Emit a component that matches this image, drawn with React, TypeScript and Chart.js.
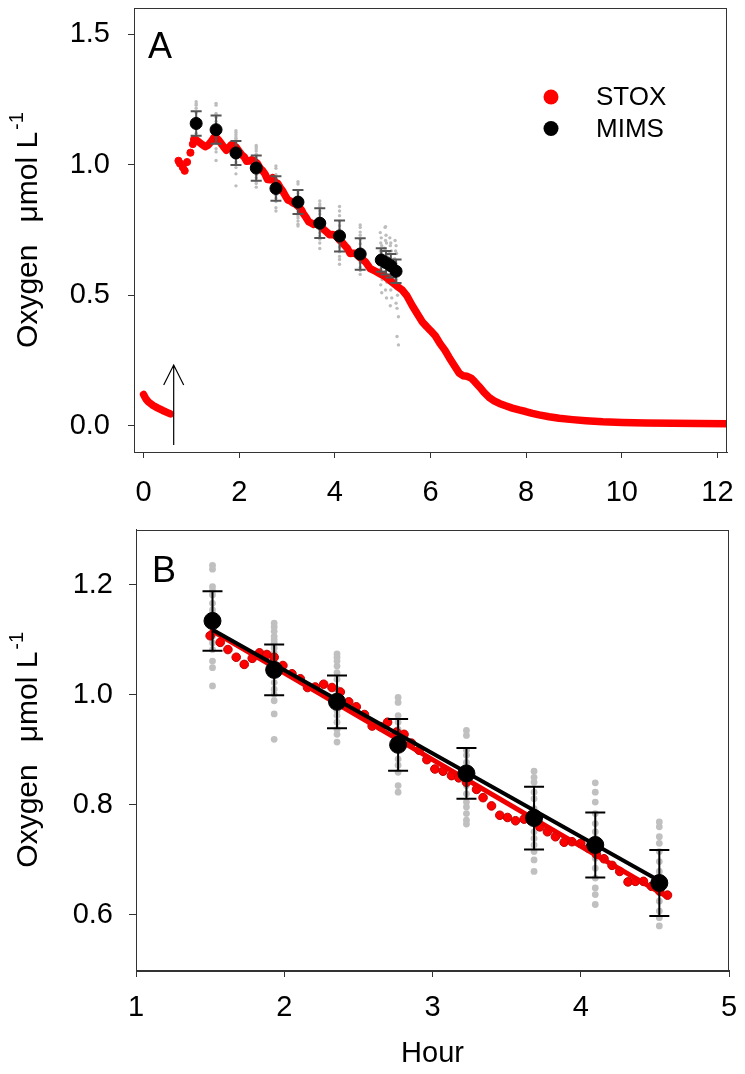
import React, { useEffect, useRef } from 'react';
import { Chart, registerables } from 'chart.js';

Chart.register(...registerables);

const FONT = '"Liberation Sans", Arial, Helvetica, sans-serif';

// ---------- tick labels ----------
const aXTicks = [0, 2, 4, 6, 8, 10, 12];
const aYTicks = [0.0, 0.5, 1.0, 1.5];
const bXTicks = [1, 2, 3, 4, 5];
const bYTicks = [0.6, 0.8, 1.0, 1.2];

// ---------- STOX (red) ----------
// initial segment before injection (arrow)
const stoxHeadHour = [0.0, 0.05, 0.1, 0.2, 0.3, 0.4, 0.5, 0.56];
const stoxHeadO2 = [0.12, 0.103, 0.092, 0.078, 0.068, 0.059, 0.051, 0.046];
// scattered dots just after injection
const stoxDotHour = [0.73, 0.76, 0.82, 0.86, 0.91, 0.98, 1.03];
const stoxDotO2 = [1.015, 1.005, 0.99, 0.977, 1.01, 1.046, 1.079];
// early zig-zag
const stoxEarlyHour = [1.05, 1.1, 1.15, 1.22, 1.29, 1.35, 1.42, 1.47];
const stoxEarlyO2 = [1.097, 1.095, 1.088, 1.078, 1.069, 1.075, 1.09, 1.104];
// regression window (panel B)
const stoxHour = [1.5, 1.568, 1.62, 1.676, 1.73, 1.784, 1.833, 1.883, 1.932, 1.991, 2.052, 2.108, 2.157, 2.209, 2.266, 2.322, 2.378, 2.435, 2.486, 2.541, 2.593, 2.649, 2.697, 2.757, 2.808, 2.858, 2.91, 2.962, 3.016, 3.071, 3.128, 3.177, 3.229, 3.297, 3.341, 3.398, 3.454, 3.506, 3.56, 3.618, 3.668, 3.724, 3.775, 3.829, 3.888, 3.941, 4.0, 4.054, 4.106, 4.157, 4.211, 4.263, 4.319, 4.369, 4.423, 4.477, 4.533, 4.585];
const stoxO2 = [1.107, 1.095, 1.082, 1.068, 1.055, 1.066, 1.076, 1.073, 1.068, 1.053, 1.038, 1.029, 1.013, 1.014, 1.019, 1.013, 1.005, 0.987, 0.978, 0.964, 0.943, 0.942, 0.95, 0.932, 0.928, 0.912, 0.899, 0.882, 0.865, 0.861, 0.853, 0.849, 0.841, 0.828, 0.813, 0.798, 0.781, 0.777, 0.771, 0.774, 0.772, 0.76, 0.751, 0.742, 0.732, 0.733, 0.73, 0.721, 0.71, 0.702, 0.69, 0.679, 0.66, 0.661, 0.661, 0.652, 0.643, 0.636];
// decline to anoxia
const stoxTailHour = [4.64, 4.74, 4.85, 4.95, 5.05, 5.2, 5.3, 5.41, 5.5, 5.62, 5.72, 5.83, 5.92, 6.0, 6.1, 6.2, 6.3, 6.39, 6.5, 6.6, 6.68, 6.76, 6.85, 6.92, 7.02, 7.12, 7.23, 7.33, 7.44, 7.57, 7.71, 7.85, 7.99, 8.13, 8.27, 8.48, 8.69, 8.97, 9.25, 9.6, 10.01, 10.5, 11.06, 11.6, 12.2];
const stoxTailO2 = [0.628, 0.602, 0.592, 0.582, 0.572, 0.55, 0.535, 0.52, 0.5, 0.46, 0.43, 0.398, 0.38, 0.365, 0.345, 0.315, 0.29, 0.262, 0.23, 0.202, 0.192, 0.19, 0.183, 0.17, 0.15, 0.128, 0.108, 0.096, 0.086, 0.077, 0.068, 0.061, 0.055, 0.048, 0.042, 0.035, 0.029, 0.024, 0.02, 0.016, 0.013, 0.011, 0.01, 0.009, 0.008];

// ---------- MIMS (black) ----------
const mimsHour = [1.1, 1.516, 1.932, 2.356, 2.768, 3.229, 3.685, 4.098, 4.53, 4.97, 5.07, 5.17, 5.28];
const mimsO2 = [1.158, 1.134, 1.045, 0.987, 0.909, 0.857, 0.776, 0.727, 0.658, 0.635, 0.625, 0.613, 0.592];
const mimsSd = [0.047, 0.054, 0.046, 0.048, 0.047, 0.046, 0.057, 0.059, 0.06, 0.045, 0.045, 0.045, 0.045];
// individual MIMS samples for the first nine time points
const mimsRaw = [
  [1.241, 1.233, 1.228, 1.216, 1.2, 1.18, 1.16, 1.14, 1.12, 1.107, 1.101],
  [1.235, 1.228, 1.196, 1.189, 1.181, 1.166, 1.154, 1.142, 1.106, 1.094, 1.082, 1.061, 1.049, 1.016],
  [1.13, 1.123, 1.115, 1.106, 1.1, 1.094, 1.085, 1.076, 1.064, 1.052, 1.037, 1.022, 1.01, 1.001, 0.989, 0.965, 0.919],
  [1.074, 1.068, 1.061, 1.052, 1.04, 1.028, 1.01, 0.992, 0.98, 0.971, 0.962, 0.95, 0.937, 0.928, 0.914],
  [0.995, 0.986, 0.962, 0.95, 0.937, 0.926, 0.914, 0.899, 0.883, 0.872, 0.859, 0.835, 0.823],
  [0.935, 0.926, 0.899, 0.89, 0.877, 0.865, 0.847, 0.835, 0.82, 0.805, 0.796, 0.784, 0.772, 0.765],
  [0.861, 0.85, 0.841, 0.823, 0.811, 0.793, 0.778, 0.766, 0.751, 0.739, 0.727, 0.715, 0.7, 0.679],
  [0.84, 0.823, 0.805, 0.784, 0.766, 0.751, 0.739, 0.721, 0.703, 0.685, 0.667, 0.649, 0.637, 0.619],
  [0.769, 0.76, 0.742, 0.73, 0.715, 0.697, 0.679, 0.661, 0.643, 0.625, 0.607, 0.595, 0.58],
];
// dense samples around 5 h
const clusterHour = [4.95, 4.97, 4.96, 4.98, 4.95, 4.97, 4.99, 4.96, 4.98, 4.95, 4.97, 4.99, 4.96, 4.98, 5.05, 5.07, 5.06, 5.08, 5.04, 5.07, 5.09, 5.05, 5.08, 5.06, 5.04, 5.07, 5.09, 5.06, 5.08, 5.15, 5.17, 5.16, 5.18, 5.14, 5.17, 5.19, 5.15, 5.18, 5.16, 5.14, 5.17, 5.19, 5.16, 5.26, 5.28, 5.27, 5.29, 5.25, 5.28, 5.3, 5.26, 5.29, 5.27, 5.31, 5.28, 5.3, 5.33, 5.3, 5.33, 5.06];
const clusterO2 = [0.74, 0.72, 0.7, 0.69, 0.67, 0.66, 0.65, 0.63, 0.62, 0.6, 0.58, 0.56, 0.54, 0.51, 0.76, 0.73, 0.71, 0.7, 0.68, 0.67, 0.65, 0.64, 0.62, 0.61, 0.59, 0.57, 0.55, 0.52, 0.49, 0.72, 0.7, 0.69, 0.67, 0.66, 0.64, 0.62, 0.61, 0.59, 0.57, 0.55, 0.52, 0.49, 0.46, 0.71, 0.69, 0.67, 0.66, 0.64, 0.62, 0.6, 0.58, 0.56, 0.53, 0.5, 0.47, 0.45, 0.418, 0.342, 0.31, 0.763];

// ---------- regression lines (panel B) ----------
const stoxFitHour = [1.5, 4.59];
const stoxFitO2 = [1.118, 0.632];
const mimsFitHour = [1.516, 4.53];
const mimsFitO2 = [1.118, 0.662];

// ---------- injection arrow ----------
const arrowHour = 0.63;
const arrowFrom = -0.073;
const arrowTo = 0.233;

const legendItems = [
  { label: 'STOX', color: '#ff0000' },
  { label: 'MIMS', color: '#000000' },
];

const pts = (xs: number[], ys: number[]) => xs.map((x, i) => ({ x, y: ys[i] }));

// ---------- plugins ----------
const framePlugin = {
  id: 'frame',
  afterDatasetsDraw(chart: any) {
    const { ctx, chartArea: a } = chart;
    ctx.save();
    ctx.strokeStyle = '#333';
    ctx.lineWidth = 1;
    ctx.strokeRect(Math.round(a.left) + 0.5, Math.round(a.top) + 0.5, Math.round(a.right - a.left) - 1, Math.round(a.bottom - a.top));
    ctx.restore();
  },
};

const errorBarPlugin = {
  id: 'errorBars',
  beforeDatasetDraw(chart: any, args: any, opts: any) {
    if (!opts || args.index !== opts.datasetIndex) return;
    const { ctx, scales } = chart;
    const ds = chart.data.datasets[args.index];
    ctx.save();
    ctx.strokeStyle = opts.color;
    ctx.lineWidth = opts.width;
    ds.data.forEach((p: any, i: number) => {
      const sd = opts.sd[i];
      const x = scales.x.getPixelForValue(p.x);
      const y1 = scales.y.getPixelForValue(p.y + sd);
      const y2 = scales.y.getPixelForValue(p.y - sd);
      ctx.beginPath();
      ctx.moveTo(x, y1);
      ctx.lineTo(x, y2);
      ctx.moveTo(x - opts.cap, y1);
      ctx.lineTo(x + opts.cap, y1);
      ctx.moveTo(x - opts.cap, y2);
      ctx.lineTo(x + opts.cap, y2);
      ctx.stroke();
    });
    ctx.restore();
  },
};

const textPlugin = {
  id: 'texts',
  afterDraw(chart: any, _args: any, opts: any) {
    const { ctx, chartArea: a, scales } = chart;
    ctx.save();
    ctx.fillStyle = '#000';
    // panel letter
    ctx.font = `36px ${FONT}`;
    ctx.textAlign = 'left';
    ctx.textBaseline = 'alphabetic';
    ctx.fillText(opts.letter, a.left + opts.letterDx, a.top + opts.letterDy);

    // y-axis title with superscript
    ctx.save();
    const cy = (a.top + a.bottom) / 2;
    ctx.translate(opts.titleX, cy);
    ctx.rotate(-Math.PI / 2);
    ctx.font = `30px ${FONT}`;
    const t1 = 'Oxygen';
    const t2 = 'μmol L';
    const gap = 22;
    const w1 = ctx.measureText(t1).width;
    const w2 = ctx.measureText(t2).width;
    ctx.font = `20px ${FONT}`;
    const w3 = ctx.measureText('-1').width;
    const total = w1 + gap + w2 + 2 + w3;
    let x0 = -total / 2;
    ctx.textAlign = 'left';
    ctx.font = `30px ${FONT}`;
    ctx.fillText(t1, x0, 0);
    x0 += w1 + gap;
    ctx.fillText(t2, x0, 0);
    x0 += w2 + 2;
    ctx.font = `20px ${FONT}`;
    ctx.fillText('-1', x0, -14);
    ctx.restore();

    // x-axis title
    if (opts.xTitle) {
      ctx.font = `29px ${FONT}`;
      ctx.textAlign = 'center';
      ctx.textBaseline = 'middle';
      ctx.fillText(opts.xTitle, (a.left + a.right) / 2, a.bottom + opts.xTitleDy);
    }

    // legend
    if (opts.legend) {
      ctx.font = `26px ${FONT}`;
      ctx.textAlign = 'left';
      ctx.textBaseline = 'middle';
      legendItems.forEach((it, i) => {
        const y = a.top + 89 + i * 31.5;
        const x = a.right - 176;
        ctx.beginPath();
        ctx.fillStyle = it.color;
        ctx.arc(x, y, 7.5, 0, Math.PI * 2);
        ctx.fill();
        ctx.fillStyle = '#000';
        ctx.fillText(it.label, x + 45, y + 1);
      });
    }

    // arrow
    if (opts.arrow) {
      const x = scales.x.getPixelForValue(arrowHour);
      const yb = scales.y.getPixelForValue(arrowFrom);
      const yt = scales.y.getPixelForValue(arrowTo);
      ctx.strokeStyle = '#000';
      ctx.lineWidth = 1.2;
      ctx.beginPath();
      ctx.moveTo(x, yb);
      ctx.lineTo(x, yt);
      ctx.moveTo(x - 10, yt + 20);
      ctx.lineTo(x, yt);
      ctx.lineTo(x + 10, yt + 20);
      ctx.stroke();
    }
    ctx.restore();
  },
};

function axis(min: number, max: number, ticks: number[], fmt: (v: number) => string, size: number, pad: number, tick: number, isX: boolean) {
  return {
    type: 'linear',
    min,
    max,
    afterBuildTicks: (s: any) => {
      s.ticks = ticks.map((v) => ({ value: v }));
    },
    afterFit: (s: any) => {
      if (isX) {
        s.height = size;
        s.paddingLeft = 0;
        s.paddingRight = 0;
      } else {
        s.width = size;
        s.paddingTop = 0;
        s.paddingBottom = 0;
      }
    },
    ticks: {
      autoSkip: false,
      maxRotation: 0,
      color: '#000',
      padding: pad,
      font: { family: FONT, size: 29 },
      callback: (v: any) => fmt(Number(v)),
    },
    grid: { drawOnChartArea: false, drawTicks: true, tickLength: tick, color: '#333', lineWidth: 1 },
    border: { display: true, color: '#333', width: 1 },
  };
}

export default function App() {
  const refA = useRef<HTMLCanvasElement>(null);
  const refB = useRef<HTMLCanvasElement>(null);

  useEffect(() => {
    const rawA: { x: number; y: number }[] = [];
    mimsRaw.forEach((arr, i) => arr.forEach((v) => rawA.push({ x: mimsHour[i], y: v })));
    const rawCluster = pts(clusterHour, clusterO2);
    const rawB = rawA.filter((p) => p.x > 1.4 && p.x < 4.7);

    const mimsAll = pts(mimsHour, mimsO2);
    const mimsBIdx = mimsHour.map((h, i) => i).filter((i) => mimsHour[i] > 1.4 && mimsHour[i] < 4.7);
    const mimsB = mimsBIdx.map((i) => ({ x: mimsHour[i], y: mimsO2[i] }));
    const mimsBSd = mimsBIdx.map((i) => mimsSd[i]);

    const stoxMainA = [
      ...pts(stoxEarlyHour, stoxEarlyO2),
      ...pts(stoxHour, stoxO2),
      ...pts(stoxTailHour, stoxTailO2),
    ];

    const chartA = new Chart(refA.current as HTMLCanvasElement, {
      type: 'scatter',
      data: {
        datasets: [
          { label: 'MIMS', data: mimsAll, pointRadius: 6, pointBackgroundColor: '#000', pointBorderColor: '#000', order: 0 } as any,
          { label: 'STOX', data: stoxMainA, showLine: true, borderColor: '#ff0000', borderWidth: 7.5, borderJoinStyle: 'round', borderCapStyle: 'round', pointRadius: 0, order: 2 },
          { label: 'STOX0', data: pts(stoxHeadHour, stoxHeadO2), showLine: true, borderColor: '#ff0000', borderWidth: 7.5, borderJoinStyle: 'round', borderCapStyle: 'round', pointRadius: 0, order: 2 },
          { label: 'STOX1', data: pts(stoxDotHour, stoxDotO2), pointRadius: 3.6, pointBackgroundColor: '#ff0000', pointBorderColor: '#ff0000', order: 2 },
          { label: 'raw', data: [...rawA, ...rawCluster], pointRadius: 1.7, pointBackgroundColor: '#bdbdbd', pointBorderColor: '#bdbdbd', pointBorderWidth: 0, order: 3 },
        ],
      },
      options: {
        responsive: false,
        animation: false,
        events: [],
        layout: { padding: { left: 0, top: 8, right: 18, bottom: 0 } },
        plugins: {
          legend: { display: false },
          tooltip: { enabled: false },
          errorBars: { datasetIndex: 0, sd: mimsSd, color: '#555', width: 2, cap: 5.5 },
          texts: { letter: 'A', letterDx: 14, letterDy: 50, titleX: 37, legend: true, arrow: true },
        } as any,
        scales: {
          x: axis(-0.2, 12.2, aXTicks, (v) => String(v), 68, 18, 6, true),
          y: axis(-0.1, 1.6, aYTicks, (v) => v.toFixed(1), 134, 18, 6, false),
        } as any,
      },
      plugins: [framePlugin, errorBarPlugin, textPlugin],
    });

    const chartB = new Chart(refB.current as HTMLCanvasElement, {
      type: 'scatter',
      data: {
        datasets: [
          { label: 'MIMS', data: mimsB, pointRadius: 8.5, pointBackgroundColor: '#000', pointBorderColor: '#000', order: 0 } as any,
          { label: 'MIMS fit', data: pts(mimsFitHour, mimsFitO2), showLine: true, borderColor: '#000', borderWidth: 4, pointRadius: 0, order: 1 },
          { label: 'STOX fit', data: pts(stoxFitHour, stoxFitO2), showLine: true, borderColor: '#ee0000', borderWidth: 5, pointRadius: 0, order: 2 },
          { label: 'STOX', data: pts(stoxHour, stoxO2), pointRadius: 4.3, pointBackgroundColor: '#ff0000', pointBorderColor: '#c00000', pointBorderWidth: 1, order: 3 },
          { label: 'raw', data: rawB, pointRadius: 3.4, pointBackgroundColor: '#c0c0c0', pointBorderColor: '#c0c0c0', pointBorderWidth: 0, order: 4 },
        ],
      },
      options: {
        responsive: false,
        animation: false,
        events: [],
        layout: { padding: { left: 0, top: 5, right: 16, bottom: 0 } },
        plugins: {
          legend: { display: false },
          tooltip: { enabled: false },
          errorBars: { datasetIndex: 0, sd: mimsBSd, color: '#000', width: 2, cap: 10 },
          texts: { letter: 'B', letterDx: 16, letterDy: 52, titleX: 37, xTitle: 'Hour', xTitleDy: 84 },
        } as any,
        scales: {
          x: axis(1, 5, bXTicks, (v) => String(v), 104, 14, 7, true),
          y: axis(0.5, 1.3, bYTicks, (v) => v.toFixed(1), 136, 16, 7, false),
        } as any,
      },
      plugins: [framePlugin, errorBarPlugin, textPlugin],
    });

    return () => {
      chartA.destroy();
      chartB.destroy();
    };
  }, []);

  return (
    <div style={{ position: 'absolute', left: 0, top: 0, width: 745, height: 1074, background: '#fff', overflow: 'hidden' }}>
      <canvas ref={refA} width={745} height={520} style={{ position: 'absolute', left: 0, top: 0 }} />
      <canvas ref={refB} width={745} height={554} style={{ position: 'absolute', left: 0, top: 520 }} />
    </div>
  );
}
